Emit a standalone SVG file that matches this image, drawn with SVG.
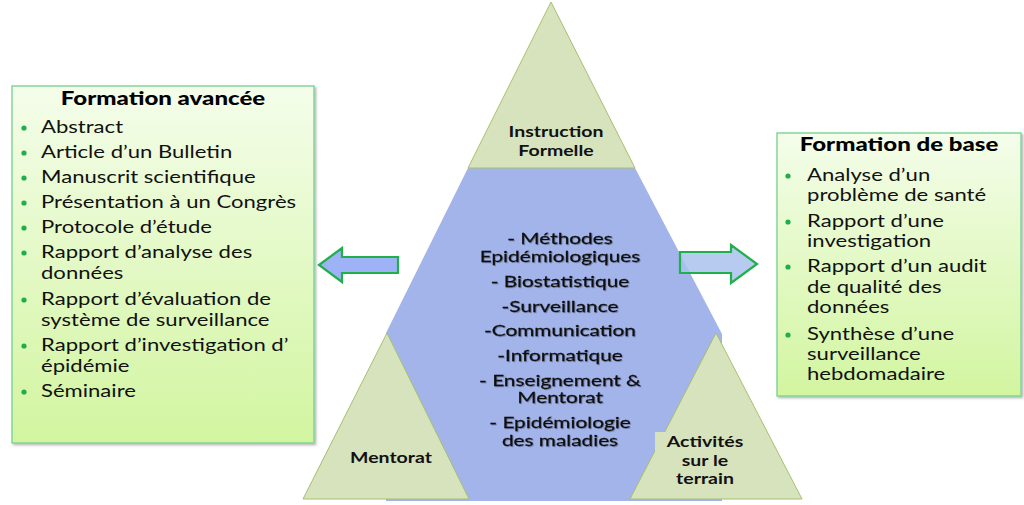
<svg xmlns="http://www.w3.org/2000/svg" width="1024" height="505" viewBox="0 0 1024 505">
  <defs>
    <linearGradient id="boxGrad" x1="0" y1="0" x2="0" y2="1">
      <stop offset="0" stop-color="#f4fdea"/>
      <stop offset="1" stop-color="#d2f5a0"/>
    </linearGradient>
    <filter id="boxShadow" x="-5%" y="-5%" width="115%" height="115%">
      <feDropShadow dx="1.5" dy="1.5" stdDeviation="1.2" flood-color="#000" flood-opacity="0.3"/>
    </filter>
    <filter id="txtShadow" x="-10%" y="-30%" width="120%" height="160%">
      <feDropShadow dx="0.8" dy="0.8" stdDeviation="0.6" flood-color="#000" flood-opacity="0.3"/>
    </filter>
  </defs>
  <style>
    .box { fill: url(#boxGrad); stroke: #74d18f; stroke-width: 1.3; }
    .tri { fill: #d7e3bd; stroke: #a6c06d; stroke-width: 1; }
    .blue { fill: #a2b4ea; }
    .arrow { stroke: #1fb04c; stroke-width: 2.2; stroke-linejoin: miter; }
    .title { font-family: Lato, "Liberation Sans", sans-serif; font-weight: 900; font-size: 18.5px; fill: #000; text-anchor: middle; }
    .item { font-family: Lato, "Liberation Sans", sans-serif; font-size: 17px; fill: #111; }
    .lbl { font-family: Lato, "Liberation Sans", sans-serif; font-weight: 700; font-size: 15px; fill: #111; text-anchor: middle; }
    .ctr { font-family: Lato, "Liberation Sans", sans-serif; font-size: 16px; fill: #111; stroke: #111; stroke-width: 0.25; text-anchor: middle; }
    .dot { fill: #1fae4a; }
  </style>

  <!-- central pyramid -->
  <g id="core">
    <polygon class="blue" points="468,168 635,168 722,334 722,501 386,501 386,333"/>
    <g transform="translate(560 0) scale(1.3 1)" filter="url(#txtShadow)">
      <text class="ctr" x="0" y="244">- Méthodes</text>
      <text class="ctr" x="0" y="262">Epidémiologiques</text>
      <text class="ctr" x="0" y="287">- Biostatistique</text>
      <text class="ctr" x="0" y="312">-Surveillance</text>
      <text class="ctr" x="0" y="336">-Communication</text>
      <text class="ctr" x="0" y="361">-Informatique</text>
      <text class="ctr" x="0" y="386">- Enseignement &amp;</text>
      <text class="ctr" x="0" y="403">Mentorat</text>
      <text class="ctr" x="0" y="428">- Epidémiologie</text>
      <text class="ctr" x="0" y="446">des maladies</text>
    </g>
  </g>

  <g id="instruction">
    <polygon class="tri" points="551,2 468,168 635,168"/>
    <g transform="translate(556 0) scale(1.3 1)">
      <text class="lbl" x="0" y="137">Instruction</text>
      <text class="lbl" x="0" y="156">Formelle</text>
    </g>
  </g>

  <g id="mentorat">
    <polygon class="tri" points="387,333 303,499 469,499"/>
    <g transform="translate(391 0) scale(1.3 1)">
      <text class="lbl" x="0" y="463">Mentorat</text>
    </g>
  </g>

  <g id="activites">
    <polygon class="tri" points="716,333 630,499 802,499"/>
    <rect x="655" y="432" width="95" height="58" fill="#d7e3bd"/>
    <g transform="translate(705 0) scale(1.3 1)">
      <text class="lbl" x="0" y="447">Activités</text>
      <text class="lbl" x="0" y="466">sur le</text>
      <text class="lbl" x="0" y="484">terrain</text>
    </g>
  </g>

  <!-- connectors -->
  <g id="connectors">
    <polygon class="arrow" fill="#9db3f5" points="319,265 342,248 342,257 398,257 398,273 342,273 342,282"/>
    <polygon class="arrow" fill="#a9c2ec" fill-opacity="0.85" points="680,252 731,252 731,245 757,264 731,283 731,273 680,273"/>
  </g>

  <!-- left box -->
  <g id="formation-avancee">
    <rect class="box" x="12" y="86" width="302" height="357" filter="url(#boxShadow)"/>
    <g transform="translate(163 0) scale(1.3 1)">
      <text class="title" x="0" y="105">Formation avancée</text>
    </g>
    <circle class="dot" cx="24" cy="128" r="2.6"/>
    <circle class="dot" cx="24" cy="153" r="2.6"/>
    <circle class="dot" cx="24" cy="178" r="2.6"/>
    <circle class="dot" cx="24" cy="203" r="2.6"/>
    <circle class="dot" cx="24" cy="228" r="2.6"/>
    <circle class="dot" cx="24" cy="253" r="2.6"/>
    <circle class="dot" cx="24" cy="300" r="2.6"/>
    <circle class="dot" cx="24" cy="346" r="2.6"/>
    <circle class="dot" cx="24" cy="392" r="2.6"/>
    <g transform="translate(41 0) scale(1.3 1)">
      <text class="item" x="0" y="133">Abstract</text>
      <text class="item" x="0" y="158">Article d’un Bulletin</text>
      <text class="item" x="0" y="183">Manuscrit scientifique</text>
      <text class="item" x="0" y="208">Présentation à un Congrès</text>
      <text class="item" x="0" y="233">Protocole d’étude</text>
      <text class="item" x="0" y="258">Rapport d’analyse des</text>
      <text class="item" x="0" y="279">données</text>
      <text class="item" x="0" y="305">Rapport d’évaluation de</text>
      <text class="item" x="0" y="326">système de surveillance</text>
      <text class="item" x="0" y="351">Rapport d’investigation d’</text>
      <text class="item" x="0" y="372">épidémie</text>
      <text class="item" x="0" y="397">Séminaire</text>
    </g>
  </g>

  <!-- right box -->
  <g id="formation-base">
    <rect class="box" x="777" y="133" width="244" height="263" filter="url(#boxShadow)"/>
    <g transform="translate(899 0) scale(1.3 1)">
      <text class="title" x="0" y="151">Formation de base</text>
    </g>
    <circle class="dot" cx="788" cy="176" r="2.6"/>
    <circle class="dot" cx="788" cy="222" r="2.6"/>
    <circle class="dot" cx="788" cy="267" r="2.6"/>
    <circle class="dot" cx="788" cy="335" r="2.6"/>
    <g transform="translate(807 0) scale(1.3 1)">
      <text class="item" x="0" y="181">Analyse d’un</text>
      <text class="item" x="0" y="201.5">problème de santé</text>
      <text class="item" x="0" y="227">Rapport d’une</text>
      <text class="item" x="0" y="247.5">investigation</text>
      <text class="item" x="0" y="272.5">Rapport d’un audit</text>
      <text class="item" x="0" y="293">de qualité des</text>
      <text class="item" x="0" y="313.5">données</text>
      <text class="item" x="0" y="340">Synthèse d’une</text>
      <text class="item" x="0" y="360">surveillance</text>
      <text class="item" x="0" y="380">hebdomadaire</text>
    </g>
  </g>
</svg>
